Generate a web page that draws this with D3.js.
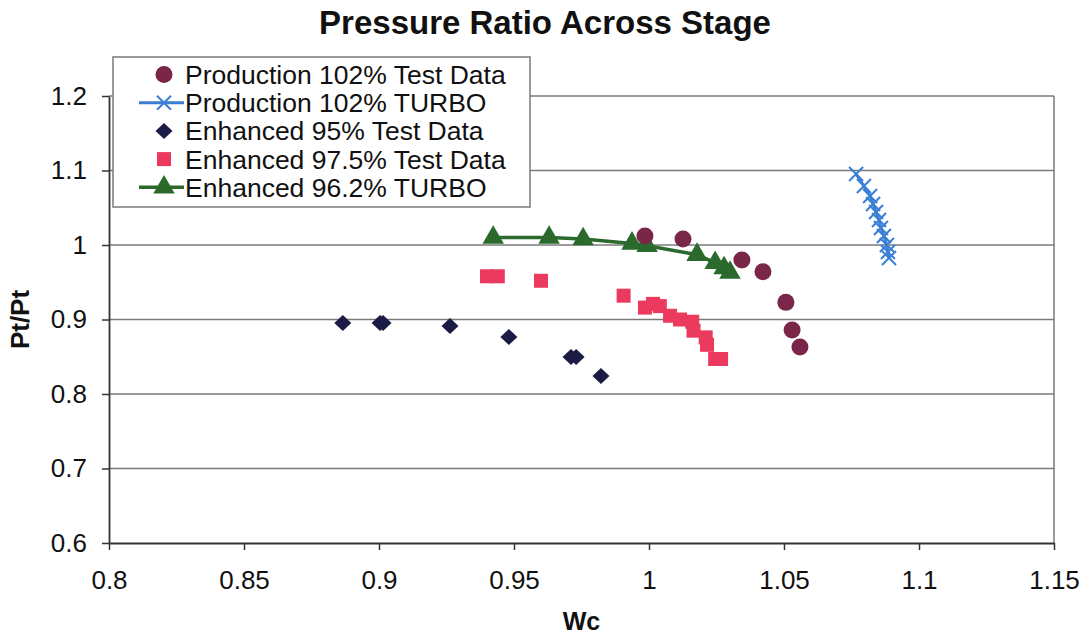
<!DOCTYPE html>
<html>
<head>
<meta charset="utf-8">
<script src="https://cdn.jsdelivr.net/npm/d3@7"></script>
<style>
  html, body { margin: 0; padding: 0; background: #fff; }
  svg { display: block; font-family: "Liberation Sans", Arial, sans-serif; }
</style>
</head>
<body>
<svg id="chart" width="1087" height="639"></svg>
<script>
// Production 102% test data (Wc, Pt/Pt)
const prodTestWc = [0.9985, 1.0126, 1.0344, 1.0422, 1.0507, 1.0530, 1.0559];
const prodTestPr = [1.012, 1.008, 0.980, 0.964, 0.923, 0.886, 0.863];

// Production 102% TURBO prediction
const prodTurboWc = [1.0767, 1.0796, 1.0819, 1.0830, 1.0841, 1.0852, 1.0859, 1.0870, 1.0881, 1.0885, 1.0889];
const prodTurboPr = [1.0953, 1.0792, 1.0658, 1.0550, 1.0443, 1.0336, 1.0228, 1.0121, 1.0000, 0.9906, 0.9826];

// Enhanced 95% test data
const enh95Wc = [0.8866, 0.9004, 0.9015, 0.9263, 0.9481, 0.9711, 0.9730, 0.9822];
const enh95Pr = [0.8953, 0.8953, 0.8953, 0.8913, 0.8765, 0.8497, 0.8497, 0.8242];

// Enhanced 97.5% test data
const enh975Wc = [0.9400, 0.9440, 0.9600, 0.9906, 0.9985, 1.0015, 1.0040, 1.0078, 1.0115, 1.0160, 1.0165, 1.0210, 1.0215, 1.0245, 1.0267];
const enh975Pr = [0.958, 0.958, 0.952, 0.932, 0.916, 0.921, 0.918, 0.905, 0.900, 0.897, 0.885, 0.876, 0.866, 0.847, 0.847];

// Enhanced 96.2% TURBO prediction
const enhTurboWc = [0.9423, 0.9630, 0.9756, 0.9937, 0.9993, 1.0178, 1.0245, 1.0278, 1.0300];
const enhTurboPr = [1.010, 1.010, 1.008, 1.002, 0.999, 0.987, 0.976, 0.969, 0.963];

const xTicks = [0.8, 0.85, 0.9, 0.95, 1, 1.05, 1.1, 1.15];
const yTicks = [0.6, 0.7, 0.8, 0.9, 1, 1.1, 1.2];

const legendLabels = [
  "Production 102% Test Data",
  "Production 102% TURBO",
  "Enhanced 95% Test Data",
  "Enhanced 97.5% Test Data",
  "Enhanced 96.2% TURBO"
];

const colors = {
  prodTest: "#7a2649",
  prodTurbo: "#3a7fd6",
  enh95: "#1b1b45",
  enh975: "#ec3a5e",
  enhTurbo: "#2b6a2c"
};

const FONT = "\"Liberation Sans\", Arial, sans-serif";
const svg = d3.select("#chart");
const plot = { left: 109, right: 1054, top: 96, bottom: 543 };

const x = d3.scaleLinear().domain([0.8, 1.15]).range([plot.left, plot.right]);
const y = d3.scaleLinear().domain([0.6, 1.2]).range([plot.bottom, plot.top]);

const zip = (a, b) => a.map((v, i) => [v, b[i]]);

// Title
svg.append("text")
  .attr("x", 545).attr("y", 34)
  .attr("text-anchor", "middle")
  .attr("font-size", 33).attr("font-weight", "bold")
  .attr("fill", "#111")
  .text("Pressure Ratio Across Stage");

// Horizontal gridlines
svg.append("g")
  .selectAll("line")
  .data(yTicks.filter(t => t > 0.6))
  .join("line")
  .attr("x1", plot.left).attr("x2", plot.right)
  .attr("y1", d => y(d)).attr("y2", d => y(d))
  .attr("stroke", "#7a7a7a").attr("stroke-width", 1.5);

// Right border
svg.append("line")
  .attr("x1", plot.right).attr("x2", plot.right)
  .attr("y1", plot.top).attr("y2", plot.bottom)
  .attr("stroke", "#7a7a7a").attr("stroke-width", 1.5);

// Axes
const xAxis = d3.axisBottom(x).tickValues(xTicks).tickSize(7).tickSizeOuter(0)
  .tickFormat(d => d3.format("")(d));
const yAxis = d3.axisLeft(y).tickValues(yTicks).tickSize(7).tickSizeOuter(0)
  .tickFormat(d => d3.format("")(d));

const gx = svg.append("g").attr("transform", `translate(0,${plot.bottom})`).call(xAxis);
gx.select(".domain").attr("stroke", "#333").attr("stroke-width", 1.8);
gx.selectAll(".tick line").attr("stroke", "#333").attr("stroke-width", 1.5);
gx.selectAll(".tick text").attr("font-size", 26).attr("fill", "#111")
  .attr("dy", "0.71em").attr("y", 28)
  .attr("font-family", FONT);

const gy = svg.append("g").attr("transform", `translate(${plot.left},0)`).call(yAxis);
gy.select(".domain").attr("stroke", "#333").attr("stroke-width", 1.8);
gy.selectAll(".tick line").attr("stroke", "#333").attr("stroke-width", 1.5);
gy.selectAll(".tick text").attr("font-size", 26).attr("fill", "#111")
  .attr("x", -22)
  .attr("font-family", FONT);

// Axis titles
svg.append("text")
  .attr("x", (plot.left + plot.right) / 2).attr("y", 630)
  .attr("text-anchor", "middle")
  .attr("font-size", 25).attr("font-weight", "bold").attr("fill", "#111")
  .text("Wc");

svg.append("text")
  .attr("transform", `translate(29,${(plot.top + plot.bottom) / 2}) rotate(-90)`)
  .attr("text-anchor", "middle")
  .attr("font-size", 26).attr("font-weight", "bold").attr("fill", "#111")
  .text("Pt/Pt");

// Marker painters
const symTriangle = d3.symbol().type(d3.symbolTriangle).size(200);

function drawCircle(g, px, py) {
  g.append("circle").attr("cx", px).attr("cy", py).attr("r", 8.5).attr("fill", colors.prodTest);
}
function drawCross(g, px, py) {
  const s = 7;
  g.append("path")
    .attr("d", `M${px - s},${py - s}L${px + s},${py + s}M${px - s},${py + s}L${px + s},${py - s}`)
    .attr("stroke", colors.prodTurbo).attr("stroke-width", 2).attr("fill", "none");
}
function drawDiamond(g, px, py) {
  const w = 8.5, h = 8;
  g.append("path")
    .attr("d", `M${px},${py - h}L${px + w},${py}L${px},${py + h}L${px - w},${py}Z`)
    .attr("fill", colors.enh95);
}
function drawSquare(g, px, py) {
  const s = 14;
  g.append("rect").attr("x", px - s / 2).attr("y", py - s / 2).attr("width", s).attr("height", s).attr("fill", colors.enh975);
}
function drawTriangle(g, px, py) {
  g.append("path").attr("d", symTriangle()).attr("transform", `translate(${px},${py})`).attr("fill", colors.enhTurbo);
}

const line = d3.line().x(d => x(d[0])).y(d => y(d[1]));
const marks = svg.append("g");

// Enhanced 95% test data
zip(enh95Wc, enh95Pr).forEach(d => drawDiamond(marks, x(d[0]), y(d[1])));
// Enhanced 97.5% test data
zip(enh975Wc, enh975Pr).forEach(d => drawSquare(marks, x(d[0]), y(d[1])));
// Enhanced 96.2% TURBO
marks.append("path").datum(zip(enhTurboWc, enhTurboPr)).attr("d", line)
  .attr("fill", "none").attr("stroke", colors.enhTurbo).attr("stroke-width", 3.5);
zip(enhTurboWc, enhTurboPr).forEach(d => drawTriangle(marks, x(d[0]), y(d[1])));
// Production 102% test data
zip(prodTestWc, prodTestPr).forEach(d => drawCircle(marks, x(d[0]), y(d[1])));
// Production 102% TURBO
marks.append("path").datum(zip(prodTurboWc, prodTurboPr)).attr("d", line)
  .attr("fill", "none").attr("stroke", colors.prodTurbo).attr("stroke-width", 3);
zip(prodTurboWc, prodTurboPr).forEach(d => drawCross(marks, x(d[0]), y(d[1])));

// Legend
const lg = svg.append("g");
lg.append("rect")
  .attr("x", 113).attr("y", 57).attr("width", 417).attr("height", 150)
  .attr("fill", "#fff").attr("stroke", "#7a7a7a").attr("stroke-width", 1.5);

const rowY = i => 74.5 + i * 28.2;
const mx = 164;
legendLabels.forEach((label, i) => {
  const yy = rowY(i);
  if (i === 0) drawCircle(lg, mx, yy);
  if (i === 1) {
    lg.append("line").attr("x1", 139).attr("x2", 184).attr("y1", yy).attr("y2", yy)
      .attr("stroke", colors.prodTurbo).attr("stroke-width", 3);
    drawCross(lg, mx, yy);
  }
  if (i === 2) drawDiamond(lg, mx, yy);
  if (i === 3) drawSquare(lg, mx, yy);
  if (i === 4) {
    lg.append("line").attr("x1", 139).attr("x2", 184).attr("y1", yy).attr("y2", yy)
      .attr("stroke", colors.enhTurbo).attr("stroke-width", 3.5);
    drawTriangle(lg, mx, yy);
  }
  lg.append("text").attr("x", 185).attr("y", yy).attr("dy", "0.36em")
    .attr("font-size", 26.5).attr("fill", "#111").text(label);
});
</script>
</body>
</html>
